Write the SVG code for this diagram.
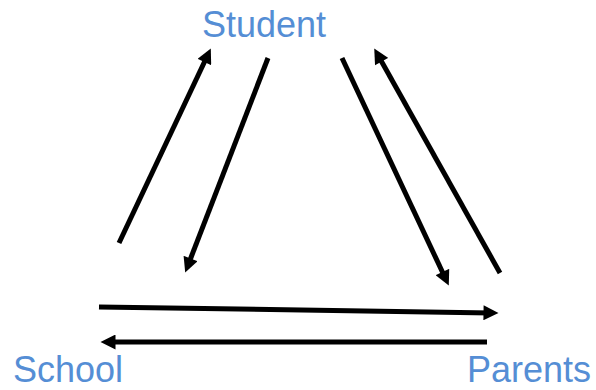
<svg xmlns="http://www.w3.org/2000/svg" width="596" height="390" viewBox="0 0 596 390">
<style>
.lbl{font-family:"Liberation Sans",Arial,sans-serif;font-size:36px;fill:#558ED5}
.c{stroke:#000;stroke-width:5;fill:none;marker-end:url(#ah)}
</style>
<defs>
<marker id="ah" viewBox="0 0 10 10" refX="5" refY="5" markerWidth="3.2" markerHeight="3" orient="auto" markerUnits="strokeWidth">
<path d="M0,0 L10,5 L0,10 z" fill="#000"/>
</marker>
</defs>
<rect width="596" height="390" fill="#fff"/>
<g id="student"><text class="lbl" x="202" y="37">Student</text></g>
<g id="school"><text class="lbl" x="13" y="382">School</text></g>
<g id="parents"><text class="lbl" x="467" y="382">Parents</text></g>
<g id="connectors">
<line class="c" x1="119" y1="243" x2="207.6" y2="55.2"/>
<line class="c" x1="268" y1="58" x2="187.9" y2="265.5"/>
<line class="c" x1="342" y1="58" x2="445.6" y2="278.8"/>
<line class="c" x1="500" y1="273" x2="377.9" y2="55"/>
<line class="c" x1="99" y1="307" x2="491" y2="312.9"/>
<line class="c" x1="487" y1="342" x2="108" y2="342"/>
</g>
</svg>
